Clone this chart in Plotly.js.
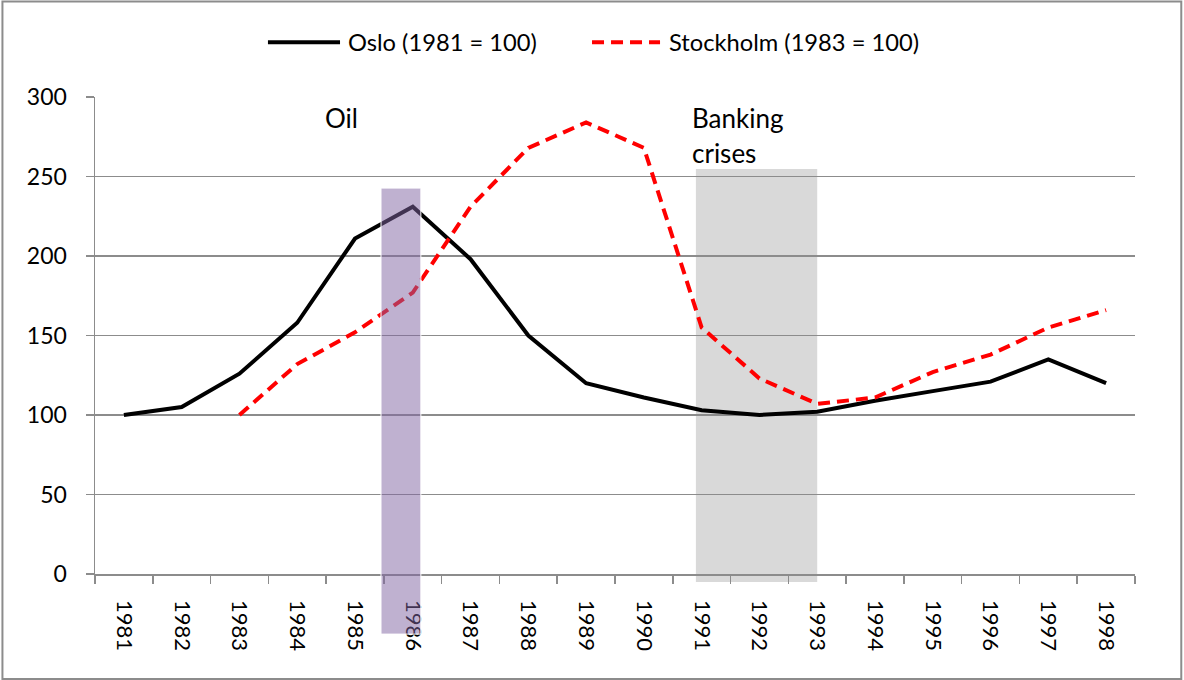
<!DOCTYPE html>
<html>
<head>
<meta charset="utf-8">
<script src="https://cdn.plot.ly/plotly-3.0.1.min.js"></script>
<style>html,body{margin:0;padding:0;background:#fff;}#chart{width:1184px;height:680px;}</style>
</head>
<body>
<div id="chart"></div>
<script>
const years = ["1981","1982","1983","1984","1985","1986","1987","1988","1989","1990","1991","1992","1993","1994","1995","1996","1997","1998"];
const osloValues = [100,105,126,158,211,231,198,150,120,111,103,100,102,109,115,121,135,120];
const stockholmValues = [null,null,100,132,152,177,231,268,284,268,155,123,107,111,127,138,155,166];
const osloName = "Oslo (1981 = 100)";
const stockholmName = "Stockholm (1983 = 100)";
const oilLabel = "Oil";
const bankingLabel1 = "Banking";
const bankingLabel2 = "crises";

const FONT = "Lato, 'Open Sans', sans-serif";
const grid = "#8c8c8c";
const OSLO_LINE = {color: "#000000", width: 4};
const STOCK_LINE = {color: "#ff0000", width: 4, dash: "12px,7px"};

const traces = [
  {x: years, y: osloValues, name: osloName, type: "scatter", mode: "lines", showlegend: false,
   line: OSLO_LINE},
  {x: years, y: stockholmValues, name: stockholmName, type: "scatter", mode: "lines", showlegend: false,
   connectgaps: false, line: STOCK_LINE}
];

const legY = 1.115;
const layout = {
  width: 1184, height: 680,
  margin: {l: 95, r: 49, t: 97, b: 106},
  paper_bgcolor: "#ffffff", plot_bgcolor: "#ffffff",
  font: {family: FONT, size: 22, color: "#000"},
  showlegend: false,
  xaxis: {type: "category", tickson: "boundaries", ticks: "outside", ticklen: 8,
          tickcolor: grid, tickwidth: 1.5, showline: true, linecolor: grid, linewidth: 1.5,
          showgrid: false, tickangle: 90, tickfont: {family: FONT, size: 22, color: "#000"},
          ticklabelstandoff: 20, range: [-0.5, 17.5], fixedrange: true},
  yaxis: {range: [0, 300], dtick: 50, ticks: "outside", ticklen: 8, tickcolor: grid, tickwidth: 1.5,
          showline: true, linecolor: grid, linewidth: 1.5, showgrid: true, gridcolor: grid, gridwidth: 1.5,
          zeroline: false, tickfont: {family: FONT, size: 23, color: "#000"}, ticklabelstandoff: 14,
          fixedrange: true},
  shapes: [
    {type: "rect", xref: "x", yref: "paper", x0: 9.9, x1: 12.0, y0: -0.017, y1: 0.849,
     fillcolor: "#d9d9d9", line: {width: 0}, layer: "below"},
    {type: "rect", xref: "x", yref: "paper", x0: 4.45, x1: 5.14, y0: -0.126, y1: 0.809,
     fillcolor: "rgba(128,100,162,0.5)", line: {color: "#ffffff", width: 1}, layer: "above"},
    {type: "rect", xref: "paper", yref: "paper", x0: -0.089, x1: 1.0445, y0: -0.22, y1: 1.2,
     fillcolor: "rgba(0,0,0,0)", line: {color: "#8c8c8c", width: 2}, layer: "above"},
    {type: "line", xref: "paper", yref: "paper", x0: 0.1663, x1: 0.2356, y0: legY, y1: legY,
     line: OSLO_LINE},
    {type: "line", xref: "paper", yref: "paper", x0: 0.4779, x1: 0.5433, y0: legY, y1: legY,
     line: STOCK_LINE}
  ],
  annotations: [
    {text: osloName, xref: "paper", yref: "paper", x: 0.2413, y: legY, showarrow: false,
     font: {family: FONT, size: 23.7, color: "#000"}, xanchor: "left", yanchor: "middle"},
    {text: stockholmName, xref: "paper", yref: "paper", x: 0.5500, y: legY, showarrow: false,
     font: {family: FONT, size: 23.7, color: "#000"}, xanchor: "left", yanchor: "middle"},
    {text: oilLabel, xref: "x", yref: "y", x: 3.77, y: 287, showarrow: false,
     font: {family: FONT, size: 26, color: "#000"}, xanchor: "center", yanchor: "middle"},
    {text: bankingLabel1, xref: "x", yref: "y", x: 9.79, y: 287, showarrow: false,
     font: {family: FONT, size: 26, color: "#000"}, xanchor: "left", yanchor: "middle"},
    {text: bankingLabel2, xref: "x", yref: "y", x: 9.79, y: 264.5, showarrow: false,
     font: {family: FONT, size: 26, color: "#000"}, xanchor: "left", yanchor: "middle"}
  ]
};

Plotly.newPlot("chart", traces, layout, {displayModeBar: false, staticPlot: true});
</script>
</body>
</html>
